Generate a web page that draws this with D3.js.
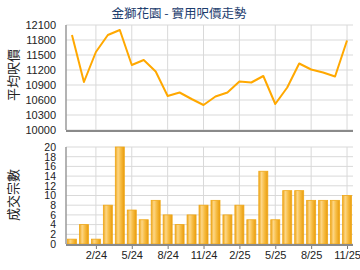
<!DOCTYPE html>
<meta charset="utf-8">
<script src="https://d3js.org/d3.v7.min.js"></script>
<style>
  body { margin: 0; background: #fff; }
  text { font-family: Arial, "Liberation Sans", sans-serif; }
  .cjk { font-family: "Noto Sans CJK TC", sans-serif; }
</style>
<div id="chart"></div>
<script>

  // months 12/23 .. 11/25
  var months = ["12/23","1/24","2/24","3/24","4/24","5/24","6/24","7/24","8/24","9/24","10/24","11/24",
                "12/24","1/25","2/25","3/25","4/25","5/25","6/25","7/25","8/25","9/25","10/25","11/25"];
  var prices = [11900, 10960, 11560, 11900, 12000, 11300, 11400, 11170, 10680, 10750, 10620, 10500,
                10670, 10750, 10970, 10950, 11080, 10520, 10850, 11330, 11210, 11150, 11070, 11790];
  var deals = [1, 4, 1, 8, 20, 7, 5, 9, 6, 4, 6, 8, 9, 6, 8, 5, 15, 5, 11, 11, 9, 9, 9, 10];
  var xTickLabels = ["2/24","5/24","8/24","11/24","2/25","5/25","8/25","11/25"];
  var priceTicks = [10000, 10300, 10600, 10900, 11200, 11500, 11800, 12100];
  var dealTicks = d3.range(0, 21, 2);

  var W = 360, H = 270;
  var left = 66, right = 353;

  var svg = d3.select("#chart").append("svg")
    .attr("width", W).attr("height", H);

  var defs = svg.append("defs");
  var grad = defs.append("linearGradient").attr("id", "barGrad")
    .attr("x1", "0").attr("x2", "1").attr("y1", "0").attr("y2", "0");
  grad.append("stop").attr("offset", "0%").attr("stop-color", "#eda51a");
  grad.append("stop").attr("offset", "30%").attr("stop-color", "#fdd685");
  grad.append("stop").attr("offset", "60%").attr("stop-color", "#f7bd45");
  grad.append("stop").attr("offset", "100%").attr("stop-color", "#e99c0c");

  var x = d3.scaleLinear().domain([-0.5, months.length - 0.5]).range([left, right]);
  var tickIdx = xTickLabels.map(function(l) { return months.indexOf(l); });

  // title
  svg.append("text").attr("class", "cjk")
    .attr("x", 179).attr("y", 18)
    .attr("text-anchor", "middle")
    .attr("font-size", 12.5)
    .attr("fill", "#1c3d6e")
    .text("金獅花園 - 實用呎價走勢");

  // ---------- top chart: price line ----------
  var yTop = 25, yBot = 130;
  var y1 = d3.scaleLinear().domain([10000, 12100]).range([yBot, yTop]);

  var g1 = svg.append("g");
  g1.selectAll(".hgrid").data(priceTicks).enter().append("line")
    .attr("x1", left).attr("x2", right)
    .attr("y1", function(d) { return y1(d); }).attr("y2", function(d) { return y1(d); })
    .attr("stroke", "#d9d9d9").attr("stroke-width", 1);
  g1.selectAll(".vgrid").data(tickIdx).enter().append("line")
    .attr("x1", function(d) { return x(d); }).attr("x2", function(d) { return x(d); })
    .attr("y1", yTop).attr("y2", yBot)
    .attr("stroke", "#d9d9d9").attr("stroke-width", 1);

  var ax1 = g1.append("g").attr("transform", "translate(" + left + ",0)")
    .call(d3.axisLeft(y1).tickValues(priceTicks).tickSize(0).tickPadding(10).tickFormat(d3.format("d")));
  ax1.select(".domain").remove();
  ax1.selectAll("text").attr("font-size", 11).attr("fill", "#222").attr("font-family", "Arial");

  g1.append("line").attr("x1", left).attr("x2", left).attr("y1", yTop).attr("y2", yBot)
    .attr("stroke", "#9a9a9a").attr("stroke-width", 1.5);
  g1.append("line").attr("x1", left).attr("x2", right).attr("y1", yBot + 1).attr("y2", yBot + 1)
    .attr("stroke", "#8a8a8a").attr("stroke-width", 2);

  var line = d3.line()
    .x(function(d, i) { return x(i); })
    .y(function(d) { return y1(d); });
  g1.append("path").datum(prices)
    .attr("d", line)
    .attr("fill", "none")
    .attr("stroke", "#ffa800")
    .attr("stroke-width", 2)
    .attr("stroke-linejoin", "round");

  svg.append("text").attr("class", "cjk")
    .attr("transform", "translate(18,75) rotate(-90)")
    .attr("text-anchor", "middle")
    .attr("font-size", 13)
    .attr("fill", "#222")
    .text("平均呎價");

  // ---------- bottom chart: deal count bars ----------
  var bTop = 147, bBot = 244;
  var y2 = d3.scaleLinear().domain([0, 20]).range([bBot, bTop]);

  var g2 = svg.append("g");
  g2.selectAll(".hgrid").data(dealTicks).enter().append("line")
    .attr("x1", left).attr("x2", right)
    .attr("y1", function(d) { return y2(d); }).attr("y2", function(d) { return y2(d); })
    .attr("stroke", "#d9d9d9").attr("stroke-width", 1);
  g2.selectAll(".vgrid").data(tickIdx).enter().append("line")
    .attr("x1", function(d) { return x(d); }).attr("x2", function(d) { return x(d); })
    .attr("y1", bTop).attr("y2", bBot)
    .attr("stroke", "#d9d9d9").attr("stroke-width", 1);

  var ax2 = g2.append("g").attr("transform", "translate(" + left + ",0)")
    .call(d3.axisLeft(y2).tickValues(dealTicks).tickSize(0).tickPadding(10));
  ax2.select(".domain").remove();
  ax2.selectAll("text").attr("font-size", 10.5).attr("fill", "#222").attr("font-family", "Arial");

  var bw = 9;
  g2.selectAll("rect.bar").data(deals).enter().append("rect")
    .attr("class", "bar")
    .attr("x", function(d, i) { return x(i) - bw / 2; })
    .attr("y", function(d) { return y2(d); })
    .attr("width", bw)
    .attr("height", function(d) { return bBot - y2(d); })
    .attr("fill", "url(#barGrad)")
    .attr("stroke", "#f0a818")
    .attr("stroke-width", 0.8);

  g2.append("line").attr("x1", left).attr("x2", left).attr("y1", bTop).attr("y2", bBot)
    .attr("stroke", "#9a9a9a").attr("stroke-width", 1.5);
  g2.append("line").attr("x1", left).attr("x2", right).attr("y1", bBot + 1).attr("y2", bBot + 1)
    .attr("stroke", "#8a8a8a").attr("stroke-width", 2);

  var xAxis = g2.append("g").attr("transform", "translate(0," + (bBot + 2) + ")")
    .call(d3.axisBottom(x).tickValues(tickIdx).tickSize(3).tickPadding(2)
      .tickFormat(function(d) { return months[d]; }));
  xAxis.select(".domain").remove();
  xAxis.selectAll("line").attr("stroke", "#777");
  xAxis.selectAll("text").attr("font-size", 11).attr("fill", "#222").attr("font-family", "Arial");

  svg.append("text").attr("class", "cjk")
    .attr("transform", "translate(18,195) rotate(-90)")
    .attr("text-anchor", "middle")
    .attr("font-size", 13)
    .attr("fill", "#222")
    .text("成交宗數");

</script>
